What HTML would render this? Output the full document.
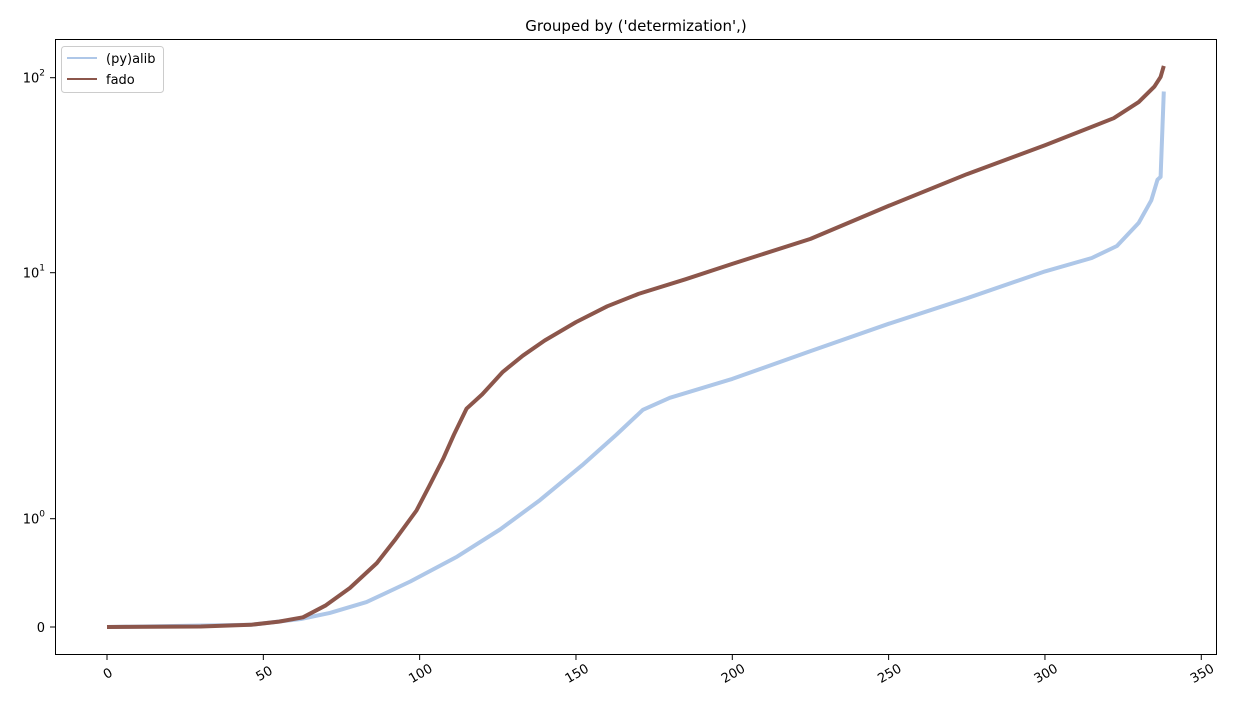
<!DOCTYPE html>
<html><head><meta charset="utf-8"><style>
body{margin:0;background:#fff;}
svg text{font-family:"DejaVu Sans","Liberation Sans",sans-serif;}
</style></head><body>
<svg width="1237" height="710" xmlns="http://www.w3.org/2000/svg">
<rect width="1237" height="710" fill="#fff"/>
<text x="636" y="31" font-size="15" text-anchor="middle">Grouped by ('determization',)</text>
<g id="ax"></g>
<g id="lines"></g>
<rect x="55.5" y="39.5" width="1161" height="615" fill="none" stroke="#000" stroke-width="1"/>
<g>
<rect x="61.5" y="46.5" width="102" height="46" rx="3" fill="#fff" stroke="#ccc"/>
<line x1="67" y1="58" x2="97" y2="58" stroke="#aec7e8" stroke-width="2"/>
<text x="106" y="63" font-size="13">(py)alib</text>
<line x1="67" y1="79" x2="97" y2="79" stroke="#8c564b" stroke-width="2"/>
<text x="106" y="84" font-size="13">fado</text>
</g>
</svg>
<script>
const xs_fado=[0,30,46,55,62.7,70,77.7,86.3,92,99,103,107.5,111,115,120,126.6,133,140,150,160,170,185,200,225,250,275,300,322,330,335,337,338];
const ys_fado=[0,0.005,0.02,0.05,0.09,0.2,0.36,0.59,0.8,1.08,1.35,1.75,2.2,2.8,3.2,3.95,4.6,5.3,6.3,7.3,8.2,9.4,11.1,14.9,22,32,45,62,75,90,101,115];
const xs_alib=[0,46,62,71.3,83,97,112,125.7,138.5,152,163,171.4,180,200,225,250,275,300,315,323,330,334,336,337,338];
const ys_alib=[0,0.02,0.074,0.13,0.23,0.42,0.65,0.9,1.19,1.65,2.2,2.77,3.1,3.7,4.8,6.2,7.87,10.16,11.9,13.7,18,23.5,30,31,85];
const xTicks=[0,50,100,150,200,250,300,350];
const yTicks=[0,1,10,100];
const yTickLabels=['0','10<tspan dy="-7" font-size="9">0</tspan>','10<tspan dy="-7" font-size="9">1</tspan>','10<tspan dy="-7" font-size="9">2</tspan>'];
function X(v){return 107+v*3.1265;}
function Y(v){
 if(v<=1) return 627-108.3*v;
 if(v<=10) return 518.7-246*Math.log10(v);
 return 272.7-195*Math.log10(v/10);
}
const NS='http://www.w3.org/2000/svg';
const ax=document.getElementById('ax');
xTicks.forEach(t=>{
 const l=document.createElementNS(NS,'line');
 l.setAttribute('x1',X(t));l.setAttribute('x2',X(t));l.setAttribute('y1',655);l.setAttribute('y2',660);l.setAttribute('stroke','#000');
 
 
 ax.appendChild(l);
 const tx=document.createElementNS(NS,'text');
 const px=X(t), py=672;
 tx.setAttribute('x',px);tx.setAttribute('y',py);tx.setAttribute('font-size','13');tx.setAttribute('text-anchor','middle');
 tx.setAttribute('transform','rotate(-30 '+px+' '+py+')');tx.setAttribute('dy','6');
 tx.textContent=t;
 
 
 ax.appendChild(tx);
});
yTicks.forEach((t,i)=>{
 const l=document.createElementNS(NS,'line');
 l.setAttribute('x1',50);l.setAttribute('x2',55);l.setAttribute('y1',Y(t));l.setAttribute('y2',Y(t));l.setAttribute('stroke','#000');
 
 
 ax.appendChild(l);
 const tx=document.createElementNS(NS,'text');
 tx.setAttribute('x',45);tx.setAttribute('y',Y(t)+5);tx.setAttribute('font-size','13');tx.setAttribute('text-anchor','end');
 tx.innerHTML=yTickLabels[i];
 
 
 ax.appendChild(tx);
});
const lg=document.getElementById('lines');
function draw(xs,ys,color,name){
 const p=document.createElementNS(NS,'polyline');
 p.setAttribute('points',xs.map((x,i)=>X(x).toFixed(1)+','+Y(ys[i]).toFixed(1)).join(' '));
 p.setAttribute('fill','none');p.setAttribute('stroke',color);p.setAttribute('stroke-width','4');p.setAttribute('stroke-linejoin','round');
 
 
 lg.appendChild(p);
}
draw(xs_alib,ys_alib,'#aec7e8','line-pyalib');
draw(xs_fado,ys_fado,'#8c564b','line-fado');
</script>
</body></html>
